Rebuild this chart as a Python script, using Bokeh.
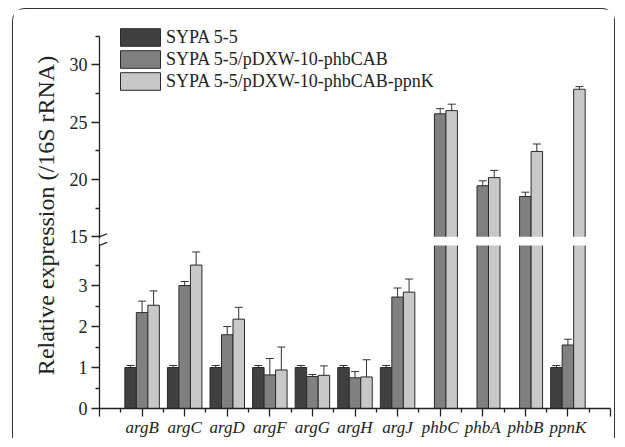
import math
from bokeh.plotting import figure
from bokeh.models import (Range1d, FixedTicker, Whisker, ColumnDataSource, TeeHead,
                          Arrow, Legend, LegendItem)
from bokeh.embed import file_html
from bokeh.resources import INLINE

# ---------------- data ----------------
genes = ["argB", "argC", "argD", "argF", "argG", "argH", "argJ",
         "phbC", "phbA", "phbB", "ppnK"]
series_names = ["SYPA 5-5", "SYPA 5-5/pDXW-10-phbCAB", "SYPA 5-5/pDXW-10-phbCAB-ppnK"]

sypa = [1.00, 1.00, 1.00, 1.00, 1.00, 1.00, 1.00, float("nan"), float("nan"), float("nan"), 1.00]
sypa_err = [0.05, 0.05, 0.05, 0.05, 0.05, 0.05, 0.05, float("nan"), float("nan"), float("nan"), 0.05]

phbcab = [2.34, 3.00, 1.80, 0.82, 0.78, 0.75, 2.72, 25.72, 19.45, 18.51, 1.55]
phbcab_err = [0.28, 0.10, 0.20, 0.40, 0.05, 0.15, 0.22, 0.45, 0.43, 0.38, 0.14]

ppnk = [2.52, 3.50, 2.18, 0.94, 0.81, 0.77, 2.84, 26.00, 20.16, 22.44, 27.86]
ppnk_err = [0.35, 0.32, 0.29, 0.56, 0.23, 0.42, 0.32, 0.56, 0.63, 0.65, 0.23]

y_major_lower = [0, 1, 2, 3]
y_minor_lower = [0.5, 1.5, 2.5, 3.5]
y_major_upper = [15, 20, 25, 30]
y_minor_upper = [17.5, 22.5, 27.5, 32.5]

# ---------------- broken axis mapping ----------------
BREAK_LOW = 3.98     # top of lower segment (value)
BREAK_HIGH = 15.0    # bottom of upper segment (value)
GAP_TOP = 4.19       # plotting coordinate where upper segment starts
UPPER_K = 0.28       # plotting units per value unit in upper segment
Y_TOP = 32.5
HEADROOM = 0.33      # empty room above the axis top (for the legend)


def ty(v):
    if v < BREAK_HIGH:
        return v
    return GAP_TOP + (v - BREAK_HIGH) * UPPER_K


colors = ["#404040", "#808080", "#c8c8c8"]
edge = "#2a2a2a"
FONT = "Liberation Serif"
BAR_W = 0.27
offsets = [-BAR_W, 0.0, BAR_W]

W, H = 603, 430
BL, BR, BT, BB = 86, 6, 13, 28
Y_END = ty(Y_TOP) + HEADROOM

p = figure(width=W, height=H, x_range=Range1d(0, 12), y_range=Range1d(0, Y_END),
           output_backend="svg", toolbar_location=None,
           min_border_left=BL, min_border_right=BR, min_border_top=BT, min_border_bottom=BB)
p.margin = (8, 0, 0, 12)
p.styles = {"border": "1px solid #333333", "border-bottom": "none",
            "border-radius": "13px 13px 0 0"}
p.xgrid.visible = False
p.ygrid.visible = False
p.outline_line_color = None
p.background_fill_color = "white"
p.border_fill_color = "white"

renderers = []
for k, (vals, errs) in enumerate([(sypa, sypa_err), (phbcab, phbcab_err), (ppnk, ppnk_err)]):
    xs, tops, ups, los = [], [], [], []
    for i, (v, e) in enumerate(zip(vals, errs)):
        if isinstance(v, float) and math.isnan(v):
            continue
        xs.append(i + 1 + offsets[k])
        tops.append(ty(v))
        ups.append(ty(v + e))
        los.append(ty(v - e))
    src = ColumnDataSource(dict(x=xs, top=tops, upper=ups, lower=los))
    r = p.vbar(x="x", top="top", bottom=0, width=BAR_W, source=src,
               fill_color=colors[k], line_color=edge, line_width=1)
    renderers.append(r)
    wh = Whisker(source=src, base="x", upper="upper", lower="lower",
                 line_color="#333333", line_width=1,
                 upper_head=TeeHead(size=8, line_color="#333333", line_width=1),
                 lower_head=TeeHead(size=8, line_color="#333333", line_width=1))
    p.add_layout(wh)

# white gap across bars at the axis break
p.quad(left=0.03, right=11.97, bottom=BREAK_LOW, top=GAP_TOP,
       fill_color="white", line_color=None)

# axis break marks
for t in (BREAK_LOW, GAP_TOP):
    p.add_layout(Arrow(end=None, x_start=-0.18, y_start=t - 0.075, x_end=0.18, y_end=t + 0.075,
                       line_color="#222222", line_width=1.2))
p.add_layout(Arrow(end=None, x_start=0, y_start=BREAK_LOW + 0.035, x_end=0, y_end=GAP_TOP - 0.035,
                   line_color="white", line_width=3))

# ---------------- axes ----------------
ymaj = [ty(v) for v in y_major_lower + y_major_upper]
ymin = [ty(v) for v in y_minor_lower + y_minor_upper]
p.yaxis.ticker = FixedTicker(ticks=ymaj, minor_ticks=ymin)
p.yaxis.major_label_overrides = {ty(v): str(v) for v in y_major_lower + y_major_upper}
p.yaxis.bounds = (0, ty(Y_TOP))
p.xaxis.ticker = FixedTicker(ticks=list(range(0, 13)),
                             minor_ticks=[i + 0.5 for i in range(12)])
xo = {0: "", 12: ""}
for i, g in enumerate(genes):
    xo[i + 1] = g
p.xaxis.major_label_overrides = xo

for ax in (p.xaxis[0], p.yaxis[0]):
    ax.axis_line_color = "#222222"
    ax.axis_line_width = 1.3
    ax.major_tick_line_color = "#222222"
    ax.minor_tick_line_color = "#222222"
    ax.major_tick_line_width = 1.3
    ax.minor_tick_line_width = 1.3
    ax.major_tick_in = 0
    ax.major_tick_out = 8
    ax.minor_tick_in = 0
    ax.minor_tick_out = 4
    ax.major_label_text_font = FONT
    ax.major_label_text_color = "#222222"

p.yaxis.major_label_text_font_size = "18px"
p.yaxis.major_label_standoff = 4
p.yaxis.axis_label = "Relative expression (/16S rRNA)"
p.yaxis.axis_label_text_font = FONT
p.yaxis.axis_label_text_font_size = "24px"
p.yaxis.axis_label_text_font_style = "normal"
p.yaxis.axis_label_text_color = "#222222"
p.yaxis.axis_label_standoff = 8

p.xaxis.major_label_text_font_size = "17px"
p.xaxis.major_label_text_font_style = "italic"
p.xaxis.major_label_standoff = 1

# ---------------- legend ----------------
legend = Legend(items=[LegendItem(label=n, renderers=[r]) for n, r in zip(series_names, renderers)],
                location=(16, 316), orientation="vertical",
                glyph_width=50, glyph_height=22, label_height=20, spacing=0,
                padding=0, margin=0, label_standoff=1,
                border_line_color=None, background_fill_alpha=0,
                label_text_font=FONT, label_text_font_size="18px", label_text_color="#222222")
p.add_layout(legend)

open("out.html", "w").write(file_html(p, INLINE))
